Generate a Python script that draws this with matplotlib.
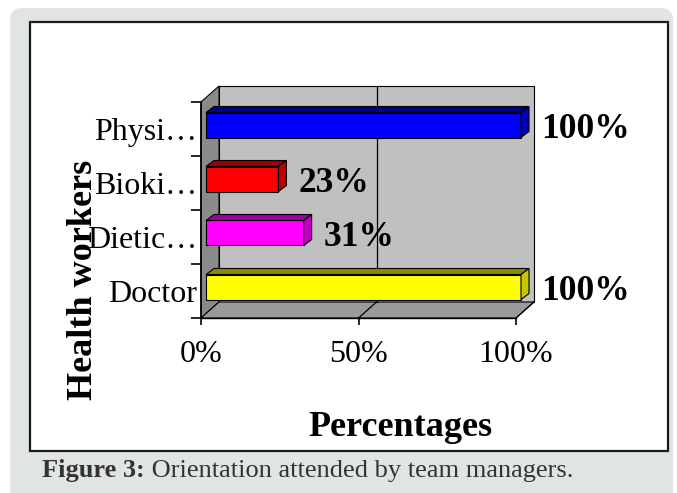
import matplotlib.pyplot as plt
import numpy as np
from matplotlib.patches import Polygon, Rectangle, FancyBboxPatch

# data, listed top to bottom as in the chart
categories = ['Physi…', 'Bioki…', 'Dietic…', 'Doctor']
values = [100, 23, 31, 100]
bar_colors = ['#0000ff', '#ff0000', '#ff00ff', '#ffff00']
top_colors = ['#00008a', '#9a0000', '#a000a0', '#8a8a00']
side_colors = ['#0000b4', '#c00000', '#c000c0', '#c8c800']
xticks = [0, 50, 100]
xticklabels = ['0%', '50%', '100%']

plt.rcParams['font.family'] = ['Liberation Serif', 'DejaVu Serif']

W, H = 677, 493
fig = plt.figure(figsize=(W / 100, H / 100), dpi=100)

# page background: grey rounded card + white framed panel
bg = fig.add_axes([0, 0, 1, 1])
bg.set_xlim(0, W)
bg.set_ylim(H, 0)
bg.axis('off')
bg.add_patch(FancyBboxPatch((20, 18), 643, 480,
                            boxstyle='round,pad=10,rounding_size=12',
                            fc='#e1e4e4', ec='none'))
bg.add_patch(Rectangle((30, 22), 638, 429, fc='white', ec='#1a1a1a', lw=1.6))

# chart axes (front plane of the 3D box), in pixels
L, R, T, B = 201, 516, 102, 318
n = len(categories)
ax = fig.add_axes([L / W, 1 - B / H, (R - L) / W, (B - T) / H])
ax.set_xlim(0, 100)
ax.set_ylim(-0.5, n - 0.5)
ax.patch.set_visible(False)
pos = np.arange(n)[::-1]

px_x = 100 / (R - L)
px_y = n / (B - T)
dx, dy = 18 * px_x, 16 * px_y      # wall depth
y0w, y1w = -0.5, n - 0.5

# walls
ax.add_patch(Rectangle((dx, y0w + dy), 100, n, fc='#c0c0c0', ec='black',
                       lw=0.8, clip_on=False, zorder=0))
ax.add_patch(Polygon([(0, y0w), (0, y1w), (dx, y1w + dy), (dx, y0w + dy)],
                     fc='#8a8a8a', ec='black', lw=0.8, clip_on=False, zorder=0))
ax.add_patch(Polygon([(0, y0w), (100, y0w), (100 + dx, y0w + dy), (dx, y0w + dy)],
                     fc='#9a9a9a', ec='black', lw=0.8, clip_on=False, zorder=0))
for t in xticks[1:-1]:
    ax.plot([t + dx, t + dx], [y0w + dy, y1w + dy], color='black', lw=0.9,
            clip_on=False, zorder=1)
for t in xticks[1:]:
    ax.plot([t, t + dx], [y0w, y0w + dy], color='black', lw=0.9,
            clip_on=False, zorder=1)

# bars with 3D top and side faces
bx, by = 5 * px_x, 4 * px_y
bdx, bdy = 8 * px_x, 6 * px_y
bh = 25 * px_y
bars = ax.barh(pos + by, values, height=bh, left=bx, color=bar_colors,
               edgecolor='black', lw=0.8, zorder=3, clip_on=False)
for rect, tc, sc in zip(bars, top_colors, side_colors):
    x0, y0 = rect.get_x(), rect.get_y()
    x1, y1 = x0 + rect.get_width(), y0 + rect.get_height()
    ax.add_patch(Polygon([(x0, y1), (x1, y1), (x1 + bdx, y1 + bdy), (x0 + bdx, y1 + bdy)],
                         fc=tc, ec='black', lw=0.8, zorder=3, clip_on=False))
    ax.add_patch(Polygon([(x1, y0), (x1 + bdx, y0 + bdy), (x1 + bdx, y1 + bdy), (x1, y1)],
                         fc=sc, ec='black', lw=0.8, zorder=3, clip_on=False))

for p, v, rect in zip(pos, values, bars):
    ax.annotate(f'{v}%', xy=(rect.get_x() + rect.get_width() + bdx, p),
                xytext=(12, 0), textcoords='offset pixels', ha='left',
                va='center', fontsize=25.5, fontweight='bold', annotation_clip=False)

# axes / ticks
for s in ['top', 'right']:
    ax.spines[s].set_visible(False)
ax.spines['left'].set_linewidth(1.2)
ax.spines['bottom'].set_linewidth(1.0)
ax.set_yticks(pos, categories)
ax.set_yticks(np.arange(-0.5, n), minor=True)
ax.tick_params(axis='y', which='major', length=0, pad=3, labelsize=23)
ax.tick_params(axis='y', which='minor', length=7, width=1.2)
ax.set_xticks(xticks, xticklabels)
ax.tick_params(axis='x', length=5, width=1.2, pad=11, labelsize=23)

fig.text(83 / W, 1 - 280 / H, 'Health workers', rotation=90, ha='center',
         va='center', fontsize=26, fontweight='bold')
fig.text(400 / W, 1 - 427 / H, 'Percentages', ha='center', va='center',
         fontsize=26, fontweight='bold')

# caption
cap = fig.text(42 / W, 1 - 471 / H, 'Figure 3:', ha='left', va='center',
               fontsize=19, fontweight='bold', color='#333333')
bg.annotate(' Orientation attended by team managers.', xy=(1, 0), xycoords=cap,
            ha='left', va='bottom', fontsize=19, color='#333333')

fig.savefig('out.png', dpi=100)
